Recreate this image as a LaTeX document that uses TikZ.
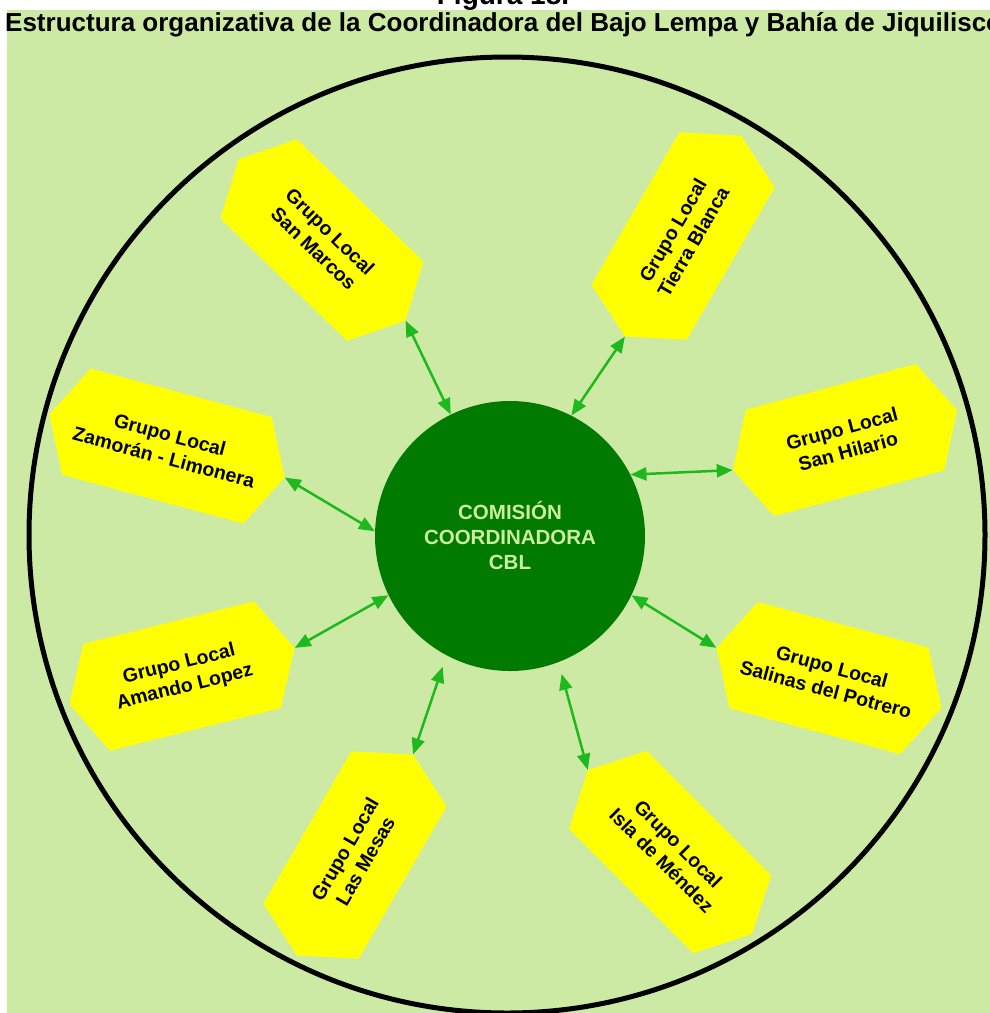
\documentclass[tikz,border=0pt]{standalone}
\usepackage{fontspec}
\setmainfont{Liberation Sans}
\usetikzlibrary{shapes.symbols,arrows.meta}
\definecolor{fondo}{RGB}{205,234,164}
\definecolor{amarillo}{RGB}{255,255,0}
\definecolor{verdeoscuro}{RGB}{0,122,0}
\definecolor{verdeflecha}{RGB}{30,185,30}
\definecolor{verdeclaro}{RGB}{205,238,160}

\begin{document}
\begin{tikzpicture}
	[x=1pt, y=1pt,
	grupo/.style = {signal, signal to=east and west, signal pointer angle=126,
	fill=amarillo, inner xsep=0pt, inner ysep=0pt,
	minimum width=232pt, minimum height=110pt,
	align=center, font=\fontsize{19.5}{23.5}\selectfont\bfseries},
	comision/.style = {circle, fill=verdeoscuro, minimum size=270pt,
	text=verdeclaro, align=center, font=\fontsize{20.5}{25}\selectfont\bfseries},
	enlace/.style = {<->, >={Triangle[length=16pt, width=13pt]},
	draw=verdeflecha, fill=verdeflecha, line width=2.5pt}]
	\useasboundingbox (0,0) rectangle (990,-1013);
	\fill[fondo] (7,-10) rectangle (990,-1013);
	\node[anchor=base, inner sep=0pt, font=\fontsize{28}{30}\selectfont\bfseries] (figura) at (503,-4) {Figura 18.};
	\node[anchor=base west, inner sep=0pt, font=\fontsize{26}{28}\selectfont\bfseries] (titulo) at (5,-31)
		{Estructura organizativa de la Coordinadora del Bajo Lempa y Bahía de Jiquilisco};
	\draw[line width=5pt] (507,-535) circle (478pt);
	\node[comision] (cbl) at (510,-536) {COMISIÓN\\COORDINADORA\\CBL};
	\node[grupo, rotate=-44] (sanmarcos) at (322,-240) {Grupo Local\\San Marcos};
	\node[grupo, rotate=60] (tierrablanca) at (683,-236) {Grupo Local\\Tierra Blanca};
	\node[grupo, rotate=-15] (zamoran) at (167,-446) {Grupo Local\\Zamorán - Limonera};
	\node[grupo, rotate=15] (sanhilario) at (845,-440) {Grupo Local\\San Hilario};
	\node[grupo, rotate=14] (amando) at (182,-676) {Grupo Local\\Amando Lopez};
	\node[grupo, rotate=-15] (salinas) at (829,-678) {Grupo Local\\Salinas del Potrero};
	\node[grupo, rotate=60] (lasmesas) at (355,-855) {Grupo Local\\Las Mesas};
	\node[grupo, rotate=-45] (isla) at (670,-852) {Grupo Local\\Isla de Méndez};
	\draw[enlace] (cbl.116) -- (sanmarcos.east);
	\draw[enlace] (cbl.63) -- (tierrablanca.west);
	\draw[enlace] (cbl.178) -- (zamoran.east);
	\draw[enlace] (cbl.27) -- (sanhilario.west);
	\draw[enlace] (cbl.206) -- (amando.east);
	\draw[enlace] (cbl.334) -- (salinas.west);
	\draw[enlace, shorten <=12pt] (cbl.291) -- (isla.west);
	\draw[enlace, shorten <=12pt] (cbl.242) -- (lasmesas.east);
\end{tikzpicture}
\end{document}
